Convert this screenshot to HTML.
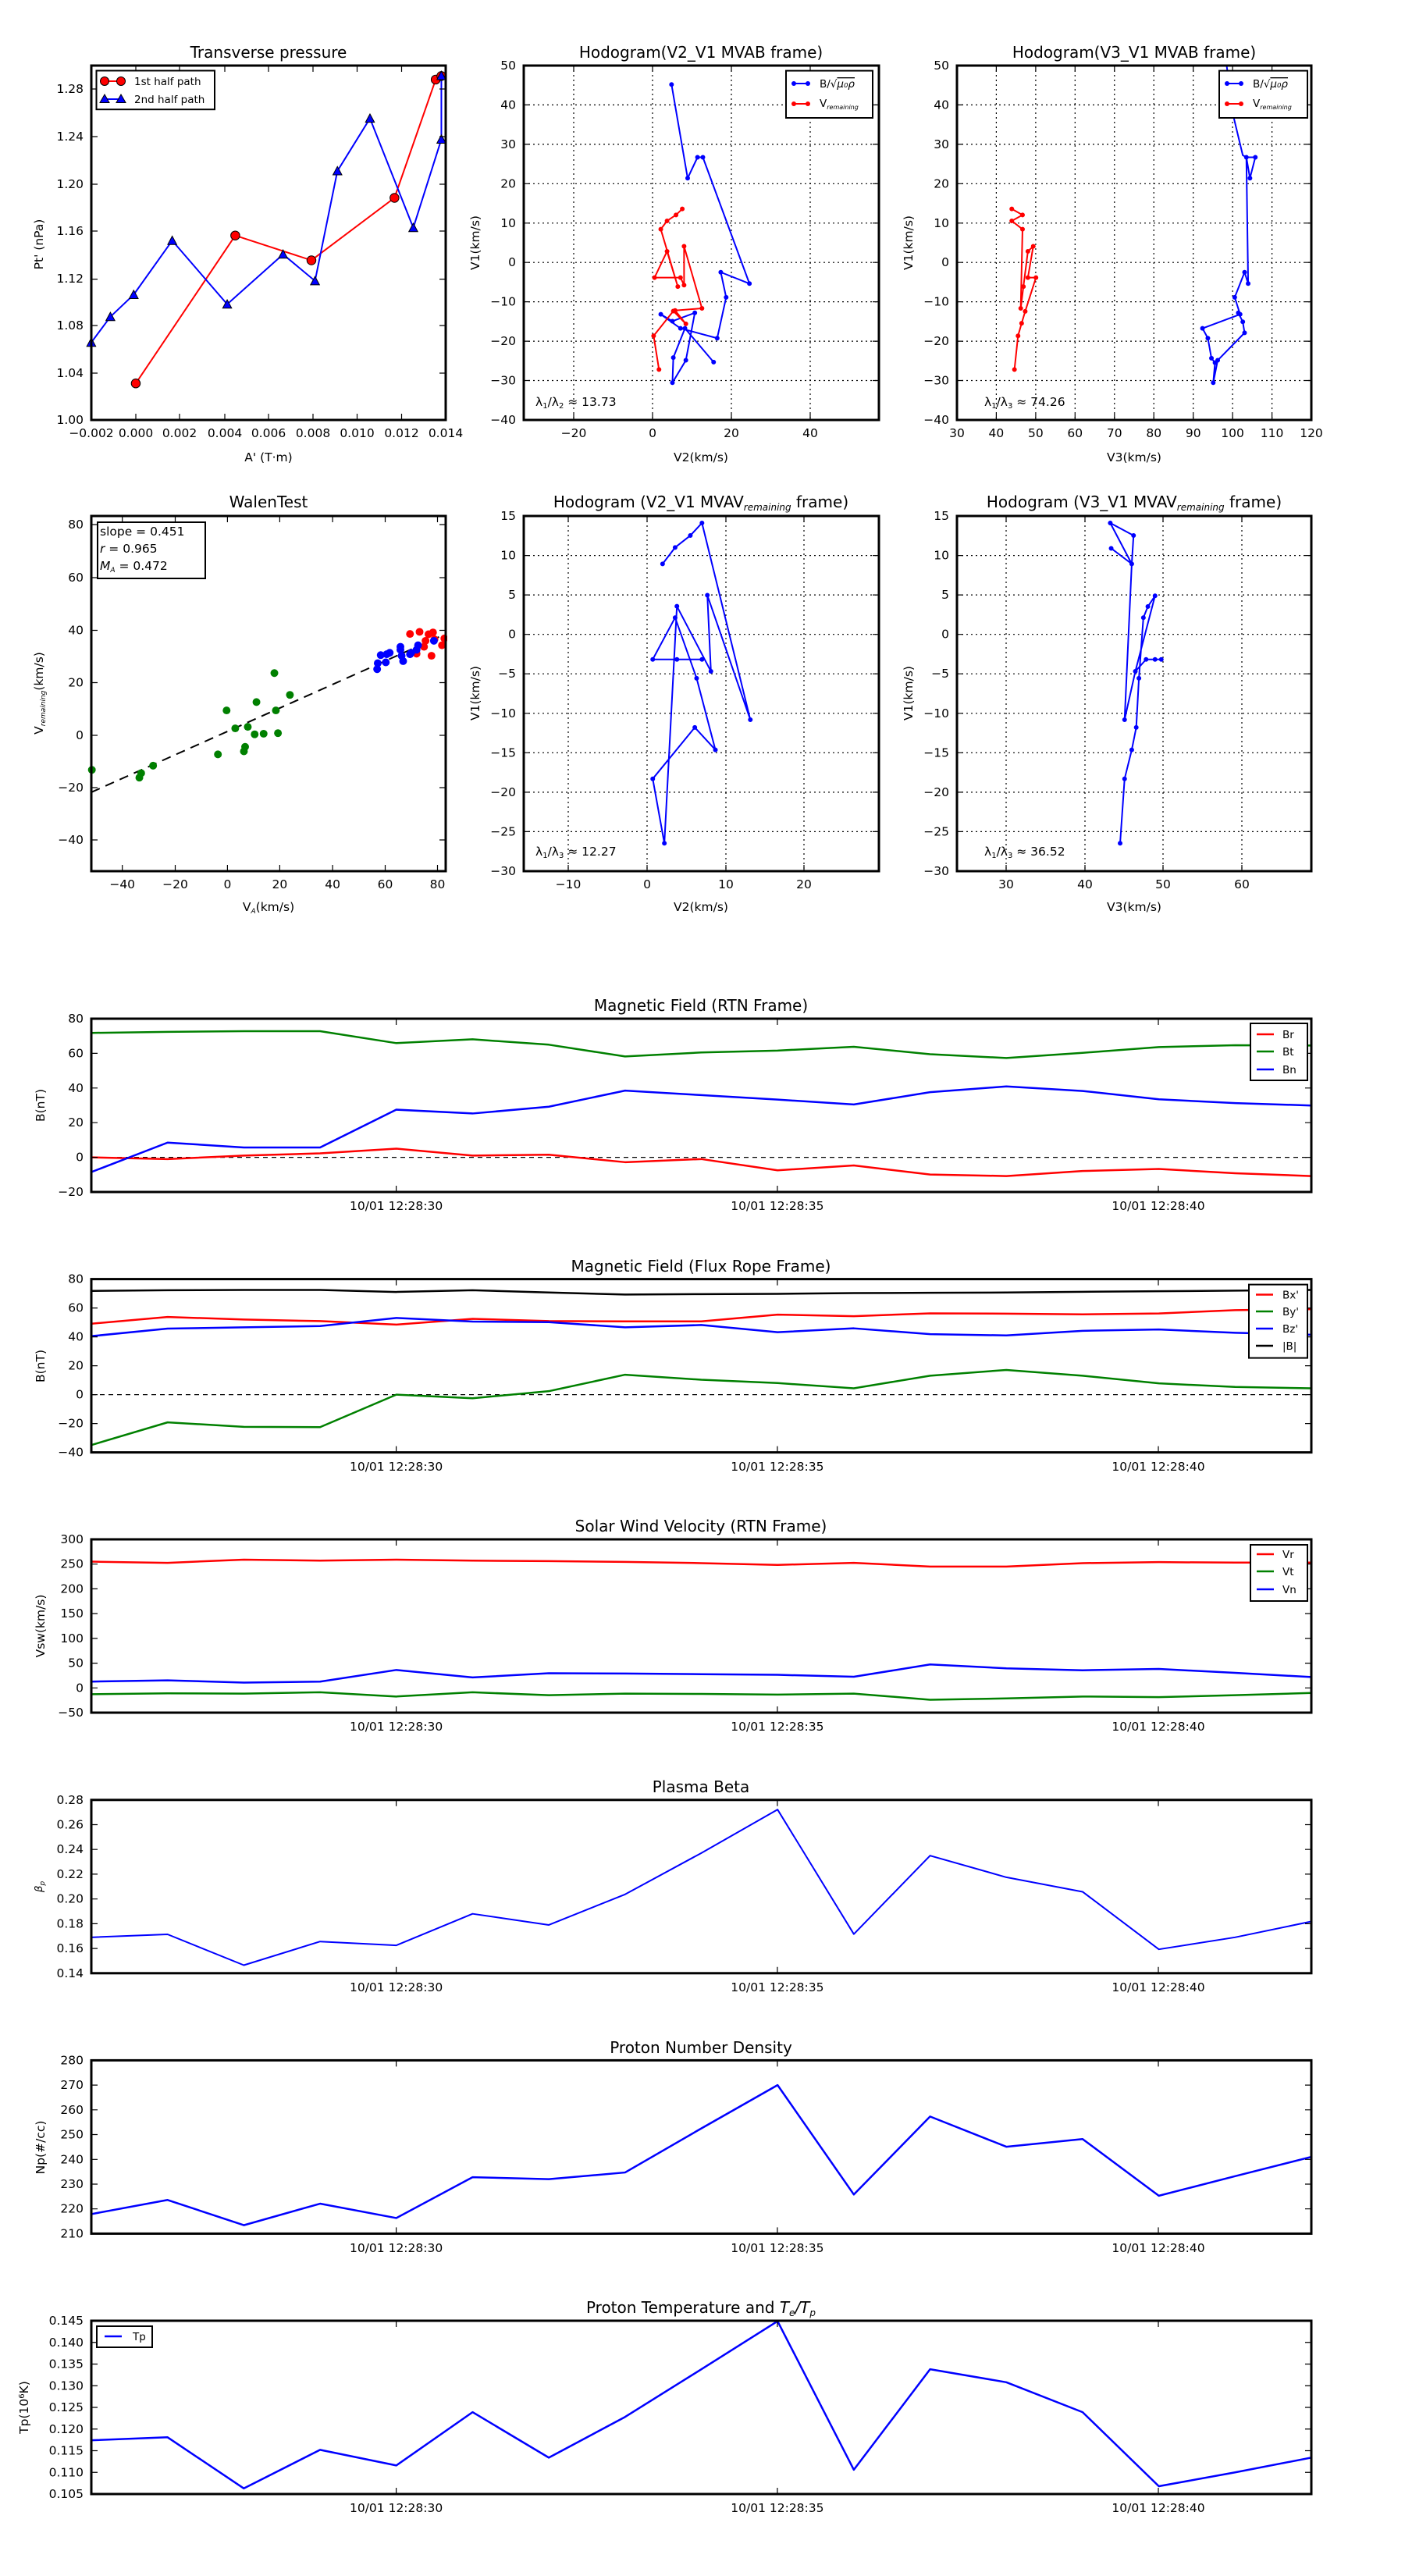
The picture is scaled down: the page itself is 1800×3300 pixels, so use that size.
<!DOCTYPE html>
<html><head><meta charset="utf-8"><style>
html,body{margin:0;padding:0;background:#fff;}
svg{display:block;font-family:"DejaVu Sans","Liberation Sans",sans-serif;}
.t{font-size:15.5px;fill:#000;}
.ti{font-size:20px;fill:#000;}
.lg{font-size:13.5px;fill:#000;}
.ax{fill:none;stroke:#000;stroke-width:3;}
.tk{fill:none;stroke:#000;stroke-width:1.2;}
.gr{fill:none;stroke:#000;stroke-width:1.2;stroke-dasharray:2,4;}
.ln{fill:none;vector-effect:non-scaling-stroke;stroke-linejoin:round;}
.dot{fill:none;vector-effect:non-scaling-stroke;stroke-linecap:round;}
</style></head><body>
<svg width="1800" height="3300" viewBox="0 0 1800 3300" xmlns="http://www.w3.org/2000/svg">
<rect width="1800" height="3300" fill="#fff"/>

<!-- ============ ROW 1 ============ -->
<text class="ti" x="344" y="74" text-anchor="middle">Transverse pressure</text>
<g transform="translate(40,30) scale(0.3827)">
 <polyline class="ln" stroke="#f00" stroke-width="2" points="350,1205 683,710 938,793 1216,584 1354,188 1373,176"/>
 <polyline class="ln" stroke="#00f" stroke-width="2" points="201,1068 265,982 343,908 472,727 656,940 843,773 950,862 1025,494 1134,318 1279,684 1373,388 1373,175"/>
 <g fill="#f00" stroke="#000" stroke-width="2.6">
  <circle cx="350" cy="1205" r="15"/><circle cx="683" cy="710" r="15"/><circle cx="938" cy="793" r="15"/><circle cx="1216" cy="584" r="15"/><circle cx="1354" cy="188" r="15"/><circle cx="1373" cy="176" r="15"/>
 </g>
 <g fill="#00f" stroke="#000" stroke-width="2.6">
  <polygon points="201,1053 216,1081 186,1081"/><polygon points="265,967 280,995 250,995"/><polygon points="343,893 358,921 328,921"/><polygon points="472,712 487,740 457,740"/><polygon points="656,925 671,953 641,953"/><polygon points="843,758 858,786 828,786"/><polygon points="950,847 965,875 935,875"/><polygon points="1025,479 1040,507 1010,507"/><polygon points="1134,303 1149,331 1119,331"/><polygon points="1279,669 1294,697 1264,697"/><polygon points="1373,373 1388,401 1358,401"/><polygon points="1373,160 1388,188 1358,188"/>
 </g>
</g>
<rect class="ax" x="117" y="84" width="454" height="454"/>
<path class="tk" d="M117 114h8M117 175h8M117 236h8M117 296h8M117 357.6h8M117 417h8M117 478h8M571 114h-8M571 175h-8M571 236h-8M571 296h-8M571 357.6h-8M571 417h-8M571 478h-8M174 538v-8M230 538v-8M288 538v-8M344 538v-8M401 538v-8M457.5 538v-8M514.5 538v-8M174 84v8M230 84v8M288 84v8M344 84v8M401 84v8M457.5 84v8M514.5 84v8"/>
<g class="t" text-anchor="end">
<text x="107" y="119">1.28</text><text x="107" y="180">1.24</text><text x="107" y="241">1.20</text><text x="107" y="301">1.16</text><text x="107" y="362">1.12</text><text x="107" y="422">1.08</text><text x="107" y="483">1.04</text><text x="107" y="543">1.00</text>
</g>
<g class="t" text-anchor="middle">
<text x="117" y="560">−0.002</text><text x="174" y="560">0.000</text><text x="230" y="560">0.002</text><text x="288" y="560">0.004</text><text x="344" y="560">0.006</text><text x="401" y="560">0.008</text><text x="457.5" y="560">0.010</text><text x="514.5" y="560">0.012</text><text x="571" y="560">0.014</text>
<text x="344" y="591">A' (T·m)</text>
</g>
<text class="t" transform="translate(55,313) rotate(-90)" text-anchor="middle">Pt' (nPa)</text>
<rect x="123.5" y="90.5" width="151.5" height="49.7" fill="#fff" stroke="#000" stroke-width="2"/>
<line x1="133" y1="104" x2="155" y2="104" stroke="#f00" stroke-width="2"/>
<circle cx="134" cy="104" r="5.5" fill="#f00" stroke="#000"/><circle cx="155" cy="104" r="5.5" fill="#f00" stroke="#000"/>
<line x1="133" y1="127" x2="155" y2="127" stroke="#00f" stroke-width="2"/>
<polygon points="134,121 140,131.5 128,131.5" fill="#00f" stroke="#000"/><polygon points="155,121 161,131.5 149,131.5" fill="#00f" stroke="#000"/>
<text class="lg" x="172" y="109">1st half path</text>
<text class="lg" x="172" y="132">2nd half path</text>

<!-- Hodogram V2_V1 MVAB -->
<text class="ti" x="898" y="74" text-anchor="middle">Hodogram(V2_V1 MVAB frame)</text>
<path class="gr" d="M735 84V538M836 84V538M937 84V538M1038 84V538M671 134.4H1126M671 184.9H1126M671 235.3H1126M671 285.8H1126M671 336.2H1126M671 386.6H1126M671 437.1H1126M671 487.5H1126"/>
<g transform="scale(1.1471,0.3824)">
 <polyline class="ln" stroke="#00f" stroke-width="2" points="750,283 768,597 779,527 785,527 837,950 805,912 811,996 801,1133 760,1100 738,1053 751,1076 776,1048 766,1207 751,1282 752,1198 765,1100 797,1213"/>
 <path class="dot" stroke="#00f" stroke-width="6" d="M750,283h0M768,597h0M779,527h0M785,527h0M837,950h0M805,912h0M811,996h0M801,1133h0M760,1100h0M738,1053h0M751,1076h0M776,1048h0M766,1207h0M751,1282h0M752,1198h0M765,1100h0M797,1213h0"/>
 <polyline class="ln" stroke="#f00" stroke-width="2" points="762,700 755,720 745,740 738,768 757,960 745,842 731,930 760,930 764,955 764,825 784,1033 754,1040 766,1085 752,1042 730,1125 736,1238"/>
 <path class="dot" stroke="#f00" stroke-width="6" d="M762,700h0M755,720h0M745,740h0M738,768h0M757,960h0M745,842h0M731,930h0M760,930h0M764,955h0M764,825h0M784,1033h0M754,1040h0M766,1085h0M752,1042h0M730,1125h0M736,1238h0"/>
</g>
<rect class="ax" x="671" y="84" width="455" height="454"/>
<path class="tk" d="M735 538v-8M836 538v-8M937 538v-8M1038 538v-8M735 84v8M836 84v8M937 84v8M1038 84v8M671 134.4h8M671 184.9h8M671 235.3h8M671 285.8h8M671 336.2h8M671 386.6h8M671 437.1h8M671 487.5h8M1126 134.4h-8M1126 184.9h-8M1126 235.3h-8M1126 285.8h-8M1126 336.2h-8M1126 386.6h-8M1126 437.1h-8M1126 487.5h-8"/>
<g class="t" text-anchor="end">
<text x="661" y="89">50</text><text x="661" y="139.4">40</text><text x="661" y="189.9">30</text><text x="661" y="240.3">20</text><text x="661" y="290.8">10</text><text x="661" y="341.2">0</text><text x="661" y="391.6">−10</text><text x="661" y="442.1">−20</text><text x="661" y="492.5">−30</text><text x="661" y="543">−40</text>
</g>
<g class="t" text-anchor="middle">
<text x="735" y="560">−20</text><text x="836" y="560">0</text><text x="937" y="560">20</text><text x="1038" y="560">40</text>
<text x="898" y="591">V2(km/s)</text>
</g>
<text class="t" transform="translate(614,311) rotate(-90)" text-anchor="middle">V1(km/s)</text>
<text class="t" x="686" y="520">λ<tspan font-size="10" dy="3">1</tspan><tspan dy="-3">/λ</tspan><tspan font-size="10" dy="3">2</tspan><tspan dy="-3"> ≈ 13.73</tspan></text>
<rect x="1007" y="90.6" width="111" height="60.4" fill="#fff" stroke="#000" stroke-width="2"/>
<line x1="1016" y1="107" x2="1036" y2="107" stroke="#00f" stroke-width="2"/><circle cx="1017" cy="107" r="3" fill="#00f"/><circle cx="1035" cy="107" r="3" fill="#00f"/>
<line x1="1016" y1="133" x2="1036" y2="133" stroke="#f00" stroke-width="2"/><circle cx="1017" cy="133" r="3" fill="#f00"/><circle cx="1035" cy="133" r="3" fill="#f00"/>
<text class="lg" x="1050" y="112">B/√<tspan text-decoration="overline" font-style="italic">μ₀ρ</tspan></text>
<text class="lg" x="1050" y="137">V<tspan font-size="8" font-style="italic" dy="3">remaining</tspan></text>

<!-- Hodogram V3_V1 MVAB -->
<text class="ti" x="1453" y="74" text-anchor="middle">Hodogram(V3_V1 MVAB frame)</text>
<path class="gr" d="M1276.4 84V538M1326.9 84V538M1377.3 84V538M1427.8 84V538M1478.2 84V538M1528.7 84V538M1579.1 84V538M1629.6 84V538M1226 134.4H1680M1226 184.9H1680M1226 235.3H1680M1226 285.8H1680M1226 336.2H1680M1226 386.6H1680M1226 437.1H1680M1226 487.5H1680"/>
<g transform="scale(1.1471,0.3824)">
 <polyline class="ln" stroke="#00f" stroke-width="2" points="1370,220 1378,395 1388,520 1392,527 1402,527 1396,597 1392,527 1394,950 1390,912 1379,996 1385,1053 1343,1100 1349,1133 1353,1200 1357,1215 1355,1282 1360,1207 1390,1115 1388,1078 1383,1048"/>
 <path class="dot" stroke="#00f" stroke-width="6" d="M1392,527h0M1402,527h0M1396,597h0M1394,950h0M1390,912h0M1379,996h0M1385,1053h0M1343,1100h0M1349,1133h0M1353,1200h0M1357,1215h0M1355,1282h0M1360,1207h0M1390,1115h0M1388,1078h0M1383,1048h0"/>
 <polyline class="ln" stroke="#f00" stroke-width="2" points="1130,700 1142,720 1130,740 1142,768 1140,1033 1143,960 1148,842 1154,825 1148,930 1157,930 1145,1043 1141,1083 1137,1125 1133,1238"/>
 <path class="dot" stroke="#f00" stroke-width="6" d="M1130,700h0M1142,720h0M1130,740h0M1142,768h0M1140,1033h0M1143,960h0M1148,842h0M1154,825h0M1148,930h0M1157,930h0M1145,1043h0M1141,1083h0M1137,1125h0M1133,1238h0"/>
</g>
<rect class="ax" x="1226" y="84" width="454" height="454"/>
<path class="tk" d="M1276.4 538v-8M1326.9 538v-8M1377.3 538v-8M1427.8 538v-8M1478.2 538v-8M1528.7 538v-8M1579.1 538v-8M1629.6 538v-8M1276.4 84v8M1326.9 84v8M1377.3 84v8M1427.8 84v8M1478.2 84v8M1528.7 84v8M1579.1 84v8M1629.6 84v8M1226 134.4h8M1226 184.9h8M1226 235.3h8M1226 285.8h8M1226 336.2h8M1226 386.6h8M1226 437.1h8M1226 487.5h8M1680 134.4h-8M1680 184.9h-8M1680 235.3h-8M1680 285.8h-8M1680 336.2h-8M1680 386.6h-8M1680 437.1h-8M1680 487.5h-8"/>
<g class="t" text-anchor="end">
<text x="1216" y="89">50</text><text x="1216" y="139.4">40</text><text x="1216" y="189.9">30</text><text x="1216" y="240.3">20</text><text x="1216" y="290.8">10</text><text x="1216" y="341.2">0</text><text x="1216" y="391.6">−10</text><text x="1216" y="442.1">−20</text><text x="1216" y="492.5">−30</text><text x="1216" y="543">−40</text>
</g>
<g class="t" text-anchor="middle">
<text x="1226" y="560">30</text><text x="1276.4" y="560">40</text><text x="1326.9" y="560">50</text><text x="1377.3" y="560">60</text><text x="1427.8" y="560">70</text><text x="1478.2" y="560">80</text><text x="1528.7" y="560">90</text><text x="1579.1" y="560">100</text><text x="1629.6" y="560">110</text><text x="1680" y="560">120</text>
<text x="1453" y="591">V3(km/s)</text>
</g>
<text class="t" transform="translate(1169,311) rotate(-90)" text-anchor="middle">V1(km/s)</text>
<text class="t" x="1261" y="520">λ<tspan font-size="10" dy="3">1</tspan><tspan dy="-3">/λ</tspan><tspan font-size="10" dy="3">3</tspan><tspan dy="-3"> ≈ 74.26</tspan></text>
<rect x="1562" y="90.6" width="113" height="60.4" fill="#fff" stroke="#000" stroke-width="2"/>
<line x1="1571" y1="107" x2="1591" y2="107" stroke="#00f" stroke-width="2"/><circle cx="1572" cy="107" r="3" fill="#00f"/><circle cx="1590" cy="107" r="3" fill="#00f"/>
<line x1="1571" y1="133" x2="1591" y2="133" stroke="#f00" stroke-width="2"/><circle cx="1572" cy="133" r="3" fill="#f00"/><circle cx="1590" cy="133" r="3" fill="#f00"/>
<text class="lg" x="1605" y="112">B/√<tspan text-decoration="overline" font-style="italic">μ₀ρ</tspan></text>
<text class="lg" x="1605" y="137">V<tspan font-size="8" font-style="italic" dy="3">remaining</tspan></text>

<!-- ============ ROW 2 ============ -->
<text class="ti" x="344" y="650" text-anchor="middle">WalenTest</text>
<g transform="translate(40,620) scale(0.3827)">
 <line x1="201" y1="1032" x2="1365" y2="512" stroke="#000" stroke-width="5.2" stroke-dasharray="31,21"/>
 <g fill="#008000">
  <circle cx="203" cy="957" r="13"/><circle cx="362" cy="983" r="13"/><circle cx="368" cy="968" r="13"/><circle cx="408" cy="943" r="13"/><circle cx="625" cy="905" r="13"/><circle cx="654" cy="758" r="13"/><circle cx="683" cy="818" r="13"/><circle cx="712" cy="895" r="13"/><circle cx="716" cy="880" r="13"/><circle cx="725" cy="813" r="13"/><circle cx="748" cy="838" r="13"/><circle cx="754" cy="730" r="13"/><circle cx="778" cy="836" r="13"/><circle cx="814" cy="633" r="13"/><circle cx="819" cy="758" r="13"/><circle cx="826" cy="834" r="13"/><circle cx="866" cy="706" r="13"/>
 </g>
 <g fill="#f00">
  <circle cx="1268" cy="502" r="13"/><circle cx="1290" cy="568" r="13"/><circle cx="1300" cy="495" r="13"/><circle cx="1315" cy="545" r="13"/><circle cx="1320" cy="525" r="13"/><circle cx="1330" cy="503" r="13"/><circle cx="1340" cy="575" r="13"/><circle cx="1345" cy="497" r="13"/><circle cx="1350" cy="520" r="13"/><circle cx="1375" cy="540" r="13"/><circle cx="1383" cy="517" r="13"/>
 </g>
 <g fill="#00f">
  <circle cx="1158" cy="620" r="13"/><circle cx="1160" cy="600" r="13"/><circle cx="1170" cy="573" r="13"/><circle cx="1187" cy="597" r="13"/><circle cx="1190" cy="570" r="13"/><circle cx="1200" cy="565" r="13"/><circle cx="1236" cy="545" r="13"/><circle cx="1236" cy="555" r="13"/><circle cx="1245" cy="593" r="13"/><circle cx="1240" cy="575" r="13"/><circle cx="1268" cy="570" r="13"/><circle cx="1272" cy="565" r="13"/><circle cx="1290" cy="555" r="13"/><circle cx="1295" cy="540" r="13"/><circle cx="1348" cy="525" r="13"/>
 </g>
</g>
<rect x="573" y="650" width="20" height="480" fill="#fff"/>
<rect class="ax" x="117" y="661" width="454" height="455"/>
<path class="tk" d="M156.7 1116v-8M224.5 1116v-8M291.4 1116v-8M358.4 1116v-8M426.1 1116v-8M493.5 1116v-8M560.5 1116v-8M156.7 661v8M224.5 661v8M291.4 661v8M358.4 661v8M426.1 661v8M493.5 661v8M560.5 661v8M117 672h8M117 740h8M117 807.5h8M117 874.5h8M117 942h8M117 1009h8M117 1076h8M571 672h-8M571 740h-8M571 807.5h-8M571 874.5h-8M571 942h-8M571 1009h-8M571 1076h-8"/>
<g class="t" text-anchor="end">
<text x="107" y="677">80</text><text x="107" y="745">60</text><text x="107" y="812.5">40</text><text x="107" y="879.5">20</text><text x="107" y="947">0</text><text x="107" y="1014">−20</text><text x="107" y="1081">−40</text>
</g>
<g class="t" text-anchor="middle">
<text x="156.7" y="1138">−40</text><text x="224.5" y="1138">−20</text><text x="291.4" y="1138">0</text><text x="358.4" y="1138">20</text><text x="426.1" y="1138">40</text><text x="493.5" y="1138">60</text><text x="560.5" y="1138">80</text>
<text x="344" y="1167">V<tspan font-size="9" font-style="italic" dy="3">A</tspan><tspan dy="-3">(km/s)</tspan></text>
</g>
<text class="t" transform="translate(55,888) rotate(-90)" text-anchor="middle">V<tspan font-size="9" font-style="italic" dy="3">remaining</tspan><tspan dy="-3">(km/s)</tspan></text>
<rect x="125" y="669" width="138" height="72" fill="#fff" stroke="#000" stroke-width="2"/>
<text class="t" x="128" y="686">slope = 0.451</text>
<text class="t" x="128" y="708"><tspan font-style="italic">r</tspan> = 0.965</text>
<text class="t" x="128" y="730"><tspan font-style="italic">M</tspan><tspan font-size="9" font-style="italic" dy="3">A</tspan><tspan dy="-3"> = 0.472</tspan></text>

<!-- Hodogram V2_V1 MVAV -->
<text class="ti" x="898" y="650" text-anchor="middle">Hodogram (V2_V1 MVAV<tspan font-size="12" font-style="italic" dy="4">remaining</tspan><tspan dy="-4"> frame)</tspan></text>
<path class="gr" d="M728 661V1116M829 661V1116M930 661V1116M1030 661V1116M671 711.6H1126M671 762.1H1126M671 812.7H1126M671 863.2H1126M671 913.8H1126M671 964.3H1126M671 1014.9H1126M671 1065.4H1126"/>
<g transform="translate(0,600) scale(1.1471,0.3824)">
 <polyline class="ln" stroke="#00f" stroke-width="2" points="740,320 754,265 771,225 784,183 838,842 790,425 794,680 756,462 742,1256 729,1040 776,868 799,943 778,703 754,500 729,640 784,640"/>
 <path class="dot" stroke="#00f" stroke-width="6" d="M740,320h0M754,265h0M771,225h0M784,183h0M838,842h0M790,425h0M794,680h0M756,462h0M742,1256h0M729,1040h0M776,868h0M799,943h0M778,703h0M754,500h0M729,640h0M784,640h0M756,640h0"/>
</g>
<rect class="ax" x="671" y="661" width="455" height="455"/>
<path class="tk" d="M728 1116v-8M829 1116v-8M930 1116v-8M1030 1116v-8M728 661v8M829 661v8M930 661v8M1030 661v8M671 711.6h8M671 762.1h8M671 812.7h8M671 863.2h8M671 913.8h8M671 964.3h8M671 1014.9h8M671 1065.4h8M1126 711.6h-8M1126 762.1h-8M1126 812.7h-8M1126 863.2h-8M1126 913.8h-8M1126 964.3h-8M1126 1014.9h-8M1126 1065.4h-8"/>
<g class="t" text-anchor="end">
<text x="661" y="666">15</text><text x="661" y="716.6">10</text><text x="661" y="767.1">5</text><text x="661" y="817.7">0</text><text x="661" y="868.2">−5</text><text x="661" y="918.8">−10</text><text x="661" y="969.3">−15</text><text x="661" y="1019.9">−20</text><text x="661" y="1070.4">−25</text><text x="661" y="1121">−30</text>
</g>
<g class="t" text-anchor="middle">
<text x="728" y="1138">−10</text><text x="829" y="1138">0</text><text x="930" y="1138">10</text><text x="1030" y="1138">20</text>
<text x="898" y="1167">V2(km/s)</text>
</g>
<text class="t" transform="translate(614,888) rotate(-90)" text-anchor="middle">V1(km/s)</text>
<text class="t" x="686" y="1096">λ<tspan font-size="10" dy="3">1</tspan><tspan dy="-3">/λ</tspan><tspan font-size="10" dy="3">3</tspan><tspan dy="-3"> ≈ 12.27</tspan></text>

<!-- Hodogram V3_V1 MVAV -->
<text class="ti" x="1453" y="650" text-anchor="middle">Hodogram (V3_V1 MVAV<tspan font-size="12" font-style="italic" dy="4">remaining</tspan><tspan dy="-4"> frame)</tspan></text>
<path class="gr" d="M1289 661V1116M1390 661V1116M1490 661V1116M1591 661V1116M1226 711.6H1680M1226 762.1H1680M1226 812.7H1680M1226 863.2H1680M1226 913.8H1680M1226 964.3H1680M1226 1014.9H1680M1226 1065.4H1680"/>
<g transform="translate(0,600) scale(1.1471,0.3824)">
 <polyline class="ln" stroke="#00f" stroke-width="2" points="1241,268 1264,320 1240,183 1266,225 1264,320 1256,842 1268,680 1290,427 1282,463 1277,500 1272,703 1269,868 1264,943 1256,1040 1251,1256"/>
 <polyline class="ln" stroke="#00f" stroke-width="2" points="1268,680 1280,640 1297,640 1290,640"/>
 <path class="dot" stroke="#00f" stroke-width="6" d="M1241,268h0M1264,320h0M1240,183h0M1266,225h0M1256,842h0M1268,680h0M1290,427h0M1282,463h0M1277,500h0M1272,703h0M1269,868h0M1264,943h0M1256,1040h0M1251,1256h0M1280,640h0M1297,640h0M1290,640h0"/>
</g>
<rect class="ax" x="1226" y="661" width="454" height="455"/>
<path class="tk" d="M1289 1116v-8M1390 1116v-8M1490 1116v-8M1591 1116v-8M1289 661v8M1390 661v8M1490 661v8M1591 661v8M1226 711.6h8M1226 762.1h8M1226 812.7h8M1226 863.2h8M1226 913.8h8M1226 964.3h8M1226 1014.9h8M1226 1065.4h8M1680 711.6h-8M1680 762.1h-8M1680 812.7h-8M1680 863.2h-8M1680 913.8h-8M1680 964.3h-8M1680 1014.9h-8M1680 1065.4h-8"/>
<g class="t" text-anchor="end">
<text x="1216" y="666">15</text><text x="1216" y="716.6">10</text><text x="1216" y="767.1">5</text><text x="1216" y="817.7">0</text><text x="1216" y="868.2">−5</text><text x="1216" y="918.8">−10</text><text x="1216" y="969.3">−15</text><text x="1216" y="1019.9">−20</text><text x="1216" y="1070.4">−25</text><text x="1216" y="1121">−30</text>
</g>
<g class="t" text-anchor="middle">
<text x="1289" y="1138">30</text><text x="1390" y="1138">40</text><text x="1490" y="1138">50</text><text x="1591" y="1138">60</text>
<text x="1453" y="1167">V3(km/s)</text>
</g>
<text class="t" transform="translate(1169,888) rotate(-90)" text-anchor="middle">V1(km/s)</text>
<text class="t" x="1261" y="1096">λ<tspan font-size="10" dy="3">1</tspan><tspan dy="-3">/λ</tspan><tspan font-size="10" dy="3">3</tspan><tspan dy="-3"> ≈ 36.52</tspan></text>

<!-- ============ TIME SERIES ============ -->
<text class="ti" x="898" y="1295" text-anchor="middle">Magnetic Field (RTN Frame)</text>
<svg x="117" y="1305" width="1563" height="222" viewBox="0 -80 16 100" preserveAspectRatio="none">
 <line class="ln" x1="0" y1="0" x2="16" y2="0" stroke="#000" stroke-width="1.2" stroke-dasharray="6,5"/>
 <polyline class="ln" stroke="#f00" stroke-width="2.5" points="0,0 1,1 2,-1 3,-2.3 4,-5 5,-1 6,-1.5 7,2.8 8,1 9,7.5 10,4.7 11,9.9 12,10.8 13,7.9 14,6.7 15,9.2 16,10.8"/>
 <polyline class="ln" stroke="#008000" stroke-width="2.5" points="0,-71.8 1,-72.4 2,-72.8 3,-72.8 4,-65.9 5,-68.1 6,-65 7,-58.2 8,-60.5 9,-61.6 10,-63.8 11,-59.5 12,-57.3 13,-60.3 14,-63.6 15,-64.7 16,-64.5"/>
 <polyline class="ln" stroke="#00f" stroke-width="2.5" points="0,8.5 1,-8.5 2,-5.7 3,-5.7 4,-27.5 5,-25.3 6,-29.2 7,-38.5 8,-35.9 9,-33.3 10,-30.5 11,-37.6 12,-40.9 13,-38.3 14,-33.5 15,-31.3 16,-29.9"/>
</svg>
<rect class="ax" x="117" y="1305" width="1563" height="222"/>
<path class="tk" d="M117 1349.4h8M117 1393.8h8M117 1438.2h8M117 1482.6h8M1680 1349.4h-8M1680 1393.8h-8M1680 1438.2h-8M1680 1482.6h-8M507.6 1527v-8M995.9 1527v-8M1484 1527v-8M507.6 1305v8M995.9 1305v8M1484 1305v8"/>
<g class="t" text-anchor="end"><text x="107" y="1310">80</text><text x="107" y="1354.4">60</text><text x="107" y="1398.8">40</text><text x="107" y="1443.2">20</text><text x="107" y="1487.6">0</text><text x="107" y="1532">−20</text></g>
<g class="t" text-anchor="middle"><text x="507.6" y="1550">10/01 12:28:30</text><text x="995.9" y="1550">10/01 12:28:35</text><text x="1484" y="1550">10/01 12:28:40</text></g>
<text class="t" transform="translate(57,1416) rotate(-90)" text-anchor="middle">B(nT)</text>
<rect x="1602" y="1311" width="73" height="73" fill="#fff" stroke="#000" stroke-width="2"/>
<line x1="1610" y1="1325" x2="1632" y2="1325" stroke="#f00" stroke-width="2.5"/><text class="lg" x="1643" y="1330">Br</text>
<line x1="1610" y1="1347" x2="1632" y2="1347" stroke="#008000" stroke-width="2.5"/><text class="lg" x="1643" y="1352">Bt</text>
<line x1="1610" y1="1370" x2="1632" y2="1370" stroke="#00f" stroke-width="2.5"/><text class="lg" x="1643" y="1375">Bn</text>

<text class="ti" x="898" y="1629" text-anchor="middle">Magnetic Field (Flux Rope Frame)</text>
<svg x="117" y="1638.6" width="1563" height="222" viewBox="0 -80 16 120" preserveAspectRatio="none">
 <line class="ln" x1="0" y1="0" x2="16" y2="0" stroke="#000" stroke-width="1.2" stroke-dasharray="6,5"/>
 <polyline class="ln" stroke="#000" stroke-width="2.5" points="0,-71.8 1,-72.3 2,-72.5 3,-72.5 4,-71.1 5,-72.3 6,-70.7 7,-69.3 8,-69.6 9,-69.8 10,-70.3 11,-70.5 12,-70.7 13,-71.2 14,-71.6 15,-72 16,-72.5"/>
 <polyline class="ln" stroke="#f00" stroke-width="2.5" points="0,-49.1 1,-53.8 2,-52 3,-50.9 4,-48.5 5,-52.5 6,-50.9 7,-50.7 8,-50.7 9,-55.4 10,-54.3 11,-56.3 12,-56.1 13,-55.6 14,-56.2 15,-58.5 16,-59.2"/>
 <polyline class="ln" stroke="#008000" stroke-width="2.5" points="0,34.9 1,19.2 2,22.3 3,22.5 4,0 5,2.5 6,-2.4 7,-13.8 8,-10.3 9,-8 10,-4.4 11,-13.1 12,-17.1 13,-13.1 14,-7.8 15,-5.3 16,-4.4"/>
 <polyline class="ln" stroke="#00f" stroke-width="2.5" points="0,-40.5 1,-45.7 2,-46.6 3,-47.5 4,-53.1 5,-50.6 6,-50.2 7,-46.6 8,-48.2 9,-43.2 10,-45.9 11,-41.9 12,-41 13,-44.2 14,-45.1 15,-42.8 16,-41.5"/>
</svg>
<rect class="ax" x="117" y="1638.6" width="1563" height="222"/>
<path class="tk" d="M117 1675.6h8M117 1712.6h8M117 1749.6h8M117 1786.6h8M117 1823.6h8M1680 1675.6h-8M1680 1712.6h-8M1680 1749.6h-8M1680 1786.6h-8M1680 1823.6h-8M507.6 1860.6v-8M995.9 1860.6v-8M1484 1860.6v-8M507.6 1638.6v8M995.9 1638.6v8M1484 1638.6v8"/>
<g class="t" text-anchor="end"><text x="107" y="1643.6">80</text><text x="107" y="1680.6">60</text><text x="107" y="1717.6">40</text><text x="107" y="1754.6">20</text><text x="107" y="1791.6">0</text><text x="107" y="1828.6">−20</text><text x="107" y="1865.6">−40</text></g>
<g class="t" text-anchor="middle"><text x="507.6" y="1884">10/01 12:28:30</text><text x="995.9" y="1884">10/01 12:28:35</text><text x="1484" y="1884">10/01 12:28:40</text></g>
<text class="t" transform="translate(57,1750) rotate(-90)" text-anchor="middle">B(nT)</text>
<rect x="1600" y="1645.6" width="75" height="94" fill="#fff" stroke="#000" stroke-width="2"/>
<line x1="1609" y1="1658.5" x2="1631" y2="1658.5" stroke="#f00" stroke-width="2.5"/><text class="lg" x="1643" y="1663.5">Bx'</text>
<line x1="1609" y1="1680" x2="1631" y2="1680" stroke="#008000" stroke-width="2.5"/><text class="lg" x="1643" y="1685">By'</text>
<line x1="1609" y1="1702" x2="1631" y2="1702" stroke="#00f" stroke-width="2.5"/><text class="lg" x="1643" y="1707">Bz'</text>
<line x1="1609" y1="1724" x2="1631" y2="1724" stroke="#000" stroke-width="2.5"/><text class="lg" x="1643" y="1729">|B|</text>

<text class="ti" x="898" y="1962" text-anchor="middle">Solar Wind Velocity (RTN Frame)</text>
<svg x="117" y="1972" width="1563" height="222" viewBox="0 -300 16 350" preserveAspectRatio="none">
 <polyline class="ln" stroke="#f00" stroke-width="2.5" points="0,-255 1,-252.6 2,-259 3,-257 4,-259 5,-257 6,-256 7,-254.5 8,-252 9,-248.4 10,-252.6 11,-245.1 12,-245.1 13,-252 14,-254 15,-253 16,-253"/>
 <polyline class="ln" stroke="#008000" stroke-width="2.5" points="0,12.8 1,10.9 2,11.5 3,8.9 4,17.4 5,8.9 6,14.8 7,11.5 8,12.2 9,13.5 10,11.5 11,23.9 12,21.3 13,17.4 14,18.7 15,14.8 16,10.2"/>
 <polyline class="ln" stroke="#00f" stroke-width="2.5" points="0,-12.7 1,-15.3 2,-10.7 3,-12.7 4,-36.2 5,-21.1 6,-29.7 7,-29 8,-27.7 9,-26.4 10,-22.5 11,-47.3 12,-39.5 13,-35.6 14,-38.2 15,-30.4 16,-21.9"/>
</svg>
<rect class="ax" x="117" y="1972" width="1563" height="222"/>
<path class="tk" d="M117 2003.7h8M117 2035.4h8M117 2067.1h8M117 2098.9h8M117 2130.6h8M117 2162.3h8M1680 2003.7h-8M1680 2035.4h-8M1680 2067.1h-8M1680 2098.9h-8M1680 2130.6h-8M1680 2162.3h-8M507.6 2194v-8M995.9 2194v-8M1484 2194v-8M507.6 1972v8M995.9 1972v8M1484 1972v8"/>
<g class="t" text-anchor="end"><text x="107" y="1977">300</text><text x="107" y="2008.7">250</text><text x="107" y="2040.4">200</text><text x="107" y="2072.1">150</text><text x="107" y="2103.9">100</text><text x="107" y="2135.6">50</text><text x="107" y="2167.3">0</text><text x="107" y="2199">−50</text></g>
<g class="t" text-anchor="middle"><text x="507.6" y="2217">10/01 12:28:30</text><text x="995.9" y="2217">10/01 12:28:35</text><text x="1484" y="2217">10/01 12:28:40</text></g>
<text class="t" transform="translate(57,2083) rotate(-90)" text-anchor="middle">Vsw(km/s)</text>
<rect x="1602" y="1979" width="73" height="72" fill="#fff" stroke="#000" stroke-width="2"/>
<line x1="1610" y1="1991" x2="1632" y2="1991" stroke="#f00" stroke-width="2.5"/><text class="lg" x="1643" y="1996">Vr</text>
<line x1="1610" y1="2013" x2="1632" y2="2013" stroke="#008000" stroke-width="2.5"/><text class="lg" x="1643" y="2018">Vt</text>
<line x1="1610" y1="2036" x2="1632" y2="2036" stroke="#00f" stroke-width="2.5"/><text class="lg" x="1643" y="2041">Vn</text>

<text class="ti" x="898" y="2296" text-anchor="middle">Plasma Beta</text>
<svg x="117" y="2305.8" width="1563" height="222" viewBox="0 -280 16 140" preserveAspectRatio="none">
 <polyline class="ln" stroke="#00f" stroke-width="2" points="0,-169 1,-171.4 2,-146.5 3,-165.6 4,-162.5 5,-188 6,-179 7,-203.7 8,-237.1 9,-272.2 10,-171.6 11,-235 12,-217.5 13,-205.8 14,-159.3 15,-169 16,-181.8"/>
</svg>
<rect class="ax" x="117" y="2305.8" width="1563" height="222"/>
<path class="tk" d="M117 2337.5h8M117 2369.2h8M117 2400.9h8M117 2432.7h8M117 2464.4h8M117 2496.1h8M1680 2337.5h-8M1680 2369.2h-8M1680 2400.9h-8M1680 2432.7h-8M1680 2464.4h-8M1680 2496.1h-8M507.6 2527.8v-8M995.9 2527.8v-8M1484 2527.8v-8M507.6 2305.8v8M995.9 2305.8v8M1484 2305.8v8"/>
<g class="t" text-anchor="end"><text x="107" y="2310.8">0.28</text><text x="107" y="2342.5">0.26</text><text x="107" y="2374.2">0.24</text><text x="107" y="2405.9">0.22</text><text x="107" y="2437.7">0.20</text><text x="107" y="2469.4">0.18</text><text x="107" y="2501.1">0.16</text><text x="107" y="2532.8">0.14</text></g>
<g class="t" text-anchor="middle"><text x="507.6" y="2551">10/01 12:28:30</text><text x="995.9" y="2551">10/01 12:28:35</text><text x="1484" y="2551">10/01 12:28:40</text></g>
<text class="lg" transform="translate(54,2417) rotate(-90)" text-anchor="middle" font-style="italic">β<tspan font-size="9" dy="3">p</tspan></text>

<text class="ti" x="898" y="2630" text-anchor="middle">Proton Number Density</text>
<svg x="117" y="2639.4" width="1563" height="222" viewBox="0 -280 16 70" preserveAspectRatio="none">
 <polyline class="ln" stroke="#00f" stroke-width="2.5" points="0,-217.9 1,-223.6 2,-213.4 3,-222.1 4,-216.3 5,-232.8 6,-232 7,-234.7 8,-252.5 9,-270 10,-225.8 11,-257.3 12,-245.1 13,-248.2 14,-225.3 15,-233.2 16,-241"/>
</svg>
<rect class="ax" x="117" y="2639.4" width="1563" height="222"/>
<path class="tk" d="M117 2671.1h8M117 2702.8h8M117 2734.5h8M117 2766.3h8M117 2798h8M117 2829.7h8M1680 2671.1h-8M1680 2702.8h-8M1680 2734.5h-8M1680 2766.3h-8M1680 2798h-8M1680 2829.7h-8M507.6 2861.4v-8M995.9 2861.4v-8M1484 2861.4v-8M507.6 2639.4v8M995.9 2639.4v8M1484 2639.4v8"/>
<g class="t" text-anchor="end"><text x="107" y="2644.4">280</text><text x="107" y="2676.1">270</text><text x="107" y="2707.8">260</text><text x="107" y="2739.5">250</text><text x="107" y="2771.3">240</text><text x="107" y="2803">230</text><text x="107" y="2834.7">220</text><text x="107" y="2866.4">210</text></g>
<g class="t" text-anchor="middle"><text x="507.6" y="2885">10/01 12:28:30</text><text x="995.9" y="2885">10/01 12:28:35</text><text x="1484" y="2885">10/01 12:28:40</text></g>
<text class="t" transform="translate(57,2751) rotate(-90)" text-anchor="middle">Np(#/cc)</text>

<text class="ti" x="898" y="2963" text-anchor="middle">Proton Temperature and <tspan font-style="italic">T</tspan><tspan font-size="12" font-style="italic" dy="4">e</tspan><tspan font-style="italic" dy="-4">/T</tspan><tspan font-size="12" font-style="italic" dy="4">p</tspan></text>
<svg x="117" y="2973" width="1563" height="222" viewBox="0 -145 16 40" preserveAspectRatio="none">
 <polyline class="ln" stroke="#00f" stroke-width="2.5" points="0,-117.4 1,-118.1 2,-106.3 3,-115.2 4,-111.6 5,-123.9 6,-113.4 7,-122.8 8,-133.8 9,-144.9 10,-110.6 11,-133.8 12,-130.8 13,-123.9 14,-106.8 15,-110 16,-113.4"/>
</svg>
<rect class="ax" x="117" y="2973" width="1563" height="222"/>
<path class="tk" d="M117 3000.75h8M117 3028.5h8M117 3056.25h8M117 3084h8M117 3111.75h8M117 3139.5h8M117 3167.25h8M1680 3000.75h-8M1680 3028.5h-8M1680 3056.25h-8M1680 3084h-8M1680 3111.75h-8M1680 3139.5h-8M1680 3167.25h-8M507.6 3195v-8M995.9 3195v-8M1484 3195v-8M507.6 2973v8M995.9 2973v8M1484 2973v8"/>
<g class="t" text-anchor="end"><text x="107" y="2978">0.145</text><text x="107" y="3005.75">0.140</text><text x="107" y="3033.5">0.135</text><text x="107" y="3061.25">0.130</text><text x="107" y="3089">0.125</text><text x="107" y="3116.75">0.120</text><text x="107" y="3144.5">0.115</text><text x="107" y="3172.25">0.110</text><text x="107" y="3200">0.105</text></g>
<g class="t" text-anchor="middle"><text x="507.6" y="3218">10/01 12:28:30</text><text x="995.9" y="3218">10/01 12:28:35</text><text x="1484" y="3218">10/01 12:28:40</text></g>
<text class="t" transform="translate(36,3084) rotate(-90)" text-anchor="middle">Tp(10<tspan font-size="10" dy="-5">6</tspan><tspan dy="5">K)</tspan></text>
<rect x="124" y="2980" width="71" height="27" fill="#fff" stroke="#000" stroke-width="2"/>
<line x1="134" y1="2993" x2="156" y2="2993" stroke="#00f" stroke-width="2.5"/><text class="lg" x="170" y="2998">Tp</text>

</svg>
</body></html>
